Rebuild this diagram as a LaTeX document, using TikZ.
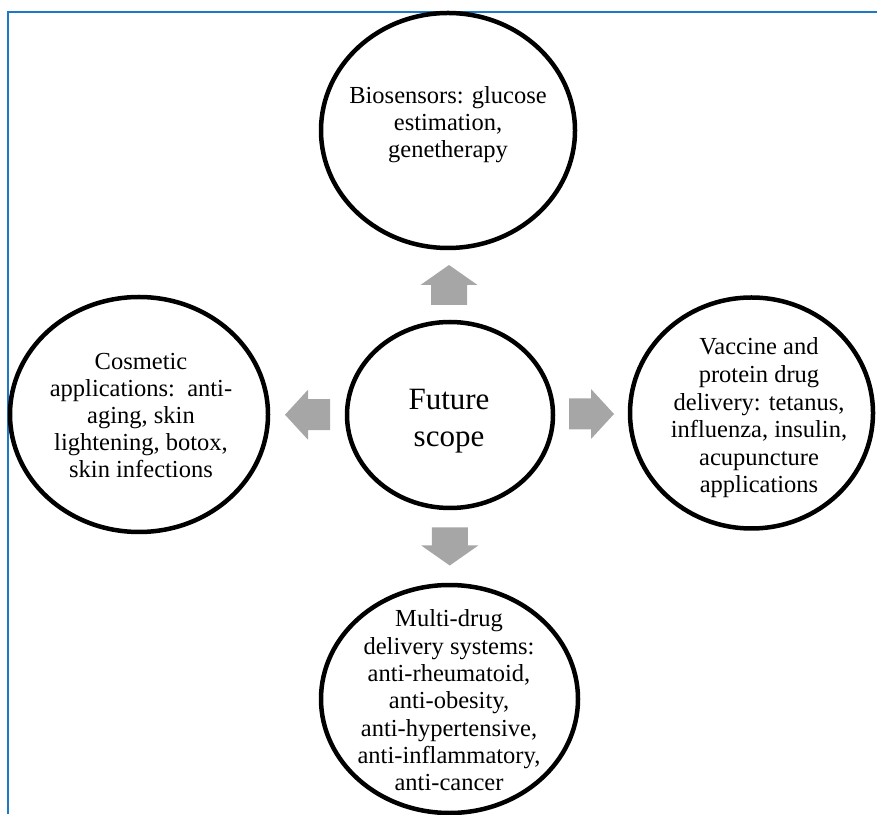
\documentclass[tikz,border=0pt]{standalone}
\usepackage{fontspec}
\setmainfont{Liberation Serif}
\usetikzlibrary{shapes.geometric,calc}
\definecolor{frameblue}{RGB}{30,120,200}
\definecolor{arrowgray}{RGB}{166,166,166}
\tikzset{
  bubble/.style={ellipse, draw=black, line width=4.5pt, inner sep=0pt, outer sep=0pt},
  txt/.style={align=center, inner sep=0pt, font=\fontsize{24.5}{27}\selectfont},
  bigtxt/.style={align=center, inner sep=0pt, font=\fontsize{31}{37}\selectfont},
  pics/blockarrow/.style n args={4}{code={
    \fill[arrowgray] (-#1/2,-#2/2) -- (#1/2-#4,-#2/2) -- (#1/2-#4,-#3/2) -- (#1/2,0)
      -- (#1/2-#4,#3/2) -- (#1/2-#4,#2/2) -- (-#1/2,#2/2) -- cycle;
  }}
}
\begin{document}
\begin{tikzpicture}[x=1pt,y=1pt]
\useasboundingbox (0,0) rectangle (877,814);
% frame
\coordinate (fa) at (8,0);
\coordinate (fb) at (8,802);
\coordinate (fc) at (877,802);
\draw[frameblue, line width=1.6pt] (fa) -- (fb) -- (fc);
% bubbles
\node[bubble, minimum width=254pt, minimum height=235pt] (top) at (448,683.5) {};
\node[bubble, minimum width=206pt, minimum height=186pt] (center) at (450,399) {};
\node[bubble, minimum width=258pt, minimum height=235pt] (left) at (139,399.5) {};
\node[bubble, minimum width=243pt, minimum height=231pt] (right) at (751.5,401) {};
\node[bubble, minimum width=257pt, minimum height=228pt] (bottom) at (449.5,115) {};
% texts
\node[txt] (toptext) at (448,689) {Biosensors: glucose\\estimation,\\genetherapy};
\node[bigtxt] (centertext) at (449,393) {Future\\scope};
\node[txt] (lefttext) at (141,398.5) {Cosmetic\\applications:\ \ anti-\\aging, skin\\lightening, botox,\\skin infections};
\node[txt, font=\fontsize{24.5}{27.6}\selectfont] (righttext) at (759,396) {Vaccine and\\protein drug\\delivery: tetanus,\\influenza, insulin,\\acupuncture\\applications};
\node[txt, font=\fontsize{24.5}{27.3}\selectfont] (bottomtext) at (449,113.5) {Multi-drug\\delivery systems:\\anti-rheumatoid,\\anti-obesity,\\anti-hypertensive,\\anti-inflammatory,\\anti-cancer};
% block arrows
\pic[rotate=90] (aup) at ($(center.north)!0.5!(top.south)$) {blockarrow={40}{36}{57}{20}};
\pic[rotate=-90] (adown) at ($(center.south)!0.5!(bottom.north)$) {blockarrow={38}{36}{57}{20}};
\pic[rotate=180] (aleft) at ($(center.west)!0.5!(left.east)$) {blockarrow={45}{31}{50}{23}};
\pic (aright) at ($(center.east)!0.5!(right.west)$) {blockarrow={45}{31}{50}{23}};
\end{tikzpicture}
\end{document}
